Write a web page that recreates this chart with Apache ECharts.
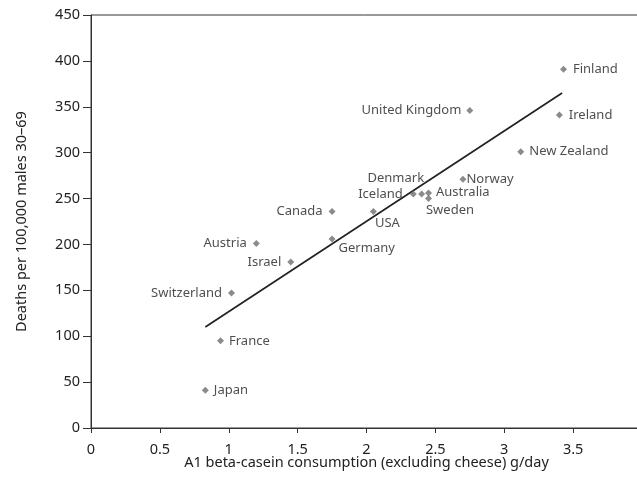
<!DOCTYPE html>
<html>
<head>
<meta charset="utf-8">
<script src="https://cdn.jsdelivr.net/npm/echarts@6/dist/echarts.min.js"></script>
<style>
html,body{margin:0;padding:0;background:#fff;}
#main{width:637px;height:493px;}
</style>
</head>
<body>
<div id="main"></div>
<script>
// Data
const countries = ["Finland","United Kingdom","Ireland","New Zealand","Norway","Iceland","Denmark","Australia","Sweden","Canada","USA","Germany","Austria","Israel","Switzerland","France","Japan"];
const consumption = [3.43, 2.75, 3.40, 3.12, 2.70, 2.34, 2.40, 2.45, 2.45, 1.75, 2.05, 1.75, 1.20, 1.45, 1.02, 0.94, 0.83];
const deaths = [391, 346, 341, 301, 271, 255, 255, 256, 250, 236, 236, 206, 201, 181, 147, 95, 41];
const trendX = [0.83, 3.42];
const trendY = [110, 365];
const xTicks = ["0","0.5","1","1.5","2","2.5","3","3.5","4"];

// label placement (style only)
const labelPlace = {
  "Finland": {position:"right", offset:[2,0]},
  "United Kingdom": {position:"left", offset:[-1,0]},
  "Ireland": {position:"right", offset:[2,0]},
  "New Zealand": {position:"right", offset:[1,0]},
  "Norway": {position:"right", offset:[-4,0]},
  "Iceland": {position:"left", offset:[-3,0]},
  "Denmark": {position:"left", offset:[10,-16]},
  "Australia": {position:"right", offset:[0,-1]},
  "Sweden": {position:"right", offset:[-10,12]},
  "Canada": {position:"left", offset:[-2,0]},
  "USA": {position:"right", offset:[-6,12]},
  "Germany": {position:"right", offset:[-1,9]},
  "Austria": {position:"left", offset:[-2,0]},
  "Israel": {position:"left", offset:[-2,0]},
  "Switzerland": {position:"left", offset:[-2,0]},
  "France": {position:"right", offset:[1,0]},
  "Japan": {position:"right", offset:[1,0]}
};

const FONT = "Noto Sans";
const points = countries.map((c,i)=>({
  name:c,
  value:[consumption[i], deaths[i]],
  label:{show:true, formatter:c, position:labelPlace[c].position, offset:labelPlace[c].offset}
}));

const chart = echarts.init(document.getElementById('main'), null, {renderer:'canvas'});
chart.setOption({
  animation:false,
  backgroundColor:'#fff',
  textStyle:{fontFamily:FONT},
  grid:{left:91, width:551, top:15, height:413, show:true, borderColor:'#333', borderWidth:1,
        containLabel:false, outerBoundsMode:'none'},
  xAxis:{
    type:'value', min:0, max:4, interval:0.5,
    name:'A1 beta-casein consumption (excluding cheese) g/day',
    nameLocation:'middle', nameGap:27, nameMoveOverlap:false,
    nameTextStyle:{fontFamily:FONT, fontSize:14.5, color:'#222'},
    axisLine:{show:true, onZero:false, lineStyle:{color:'#333', width:1}},
    axisTick:{show:true, length:5, lineStyle:{color:'#333'}},
    axisLabel:{fontFamily:FONT, fontSize:14.5, color:'#222', margin:14, showMaxLabel:true,
      formatter:(v)=>xTicks[Math.round(v/0.5)]},
    splitLine:{show:false}
  },
  yAxis:{
    type:'value', min:0, max:450, interval:50,
    name:'Deaths per 100,000 males 30–69',
    nameLocation:'middle', nameGap:62, nameMoveOverlap:false,
    nameTextStyle:{fontFamily:FONT, fontSize:14.5, color:'#222'},
    axisLine:{show:true, lineStyle:{color:'#333', width:1}},
    axisTick:{show:true, length:8, lineStyle:{color:'#333'}},
    axisLabel:{fontFamily:FONT, fontSize:14.5, color:'#222', margin:11},
    splitLine:{show:false}
  },
  series:[
    {
      type:'line',
      data:trendX.map((x,i)=>[x,trendY[i]]),
      symbol:'none',
      lineStyle:{color:'#222', width:1.7},
      silent:true, z:1
    },
    {
      type:'scatter',
      data:points,
      symbol:'diamond',
      symbolSize:7,
      itemStyle:{color:'#6e6e6e'},
      label:{fontFamily:FONT, fontSize:13, color:'#222', distance:4},
      z:2
    }
  ]
});
</script>
</body>
</html>
